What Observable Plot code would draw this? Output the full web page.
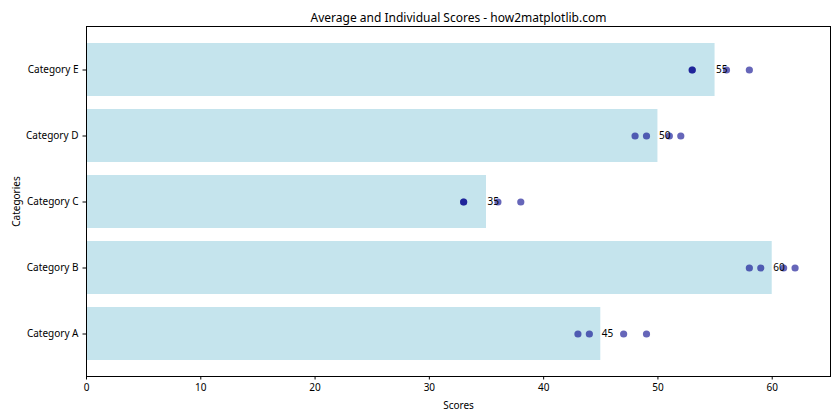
<!DOCTYPE html>
<html>
<head>
<meta charset="utf-8">
<script src="https://cdn.jsdelivr.net/npm/d3@7"></script>
<script src="https://cdn.jsdelivr.net/npm/@observablehq/plot@0.6"></script>
<style>
  body { margin: 0; background: #fff; }
  svg { font-family: "Noto Sans", "Open Sans", sans-serif; }
</style>
</head>
<body>
<div id="chart"></div>
<script>
const categories = ["Category A", "Category B", "Category C", "Category D", "Category E"];
const averages = [45, 60, 35, 50, 55];
const individualScores = [
  [43, 44, 47, 49],
  [58, 59, 61, 62],
  [33, 33, 36, 38],
  [48, 49, 51, 52],
  [53, 53, 56, 58]
];
const xTicks = [0, 10, 20, 30, 40, 50, 60];
const title = "Average and Individual Scores - how2matplotlib.com";

const bars = categories.map((c, i) => ({category: c, avg: averages[i]}));
const points = categories.flatMap((c, i) => individualScores[i].map(s => ({category: c, score: s})));

const chart = Plot.plot({
  width: 840,
  height: 420,
  marginLeft: 86,
  marginRight: 10,
  marginTop: 26,
  marginBottom: 44,
  style: {fontSize: "10px", color: "#000", background: "#fff"},
  x: {domain: [0, 65.1], ticks: xTicks, label: "Scores", labelAnchor: "center", labelArrow: "none", labelOffset: 32, tickSize: 3.5, tickPadding: 4},
  y: {domain: categories.slice().reverse(), paddingInner: 0.2, paddingOuter: 0.24, label: "Categories", labelAnchor: "center", labelArrow: "none", labelOffset: 74, tickSize: 3.5, tickPadding: 4.5},
  marks: [
    Plot.barX(bars, {y: "category", x: "avg", fill: "lightblue", fillOpacity: 0.7}),
    Plot.dot(points, {y: "category", x: "score", fill: "darkblue", fillOpacity: 0.6, r: 3.6, stroke: "none"}),
    Plot.text(bars, {y: "category", x: "avg", text: d => String(d.avg), textAnchor: "start", dx: 1, fontSize: 10, fill: "#000"}),
    Plot.frame({stroke: "#000", strokeWidth: 1}),
    Plot.text([title], {frameAnchor: "top", dy: -13, fontSize: 12, fill: "#000"})
  ]
});
document.getElementById("chart").appendChild(chart);
</script>
</body>
</html>
